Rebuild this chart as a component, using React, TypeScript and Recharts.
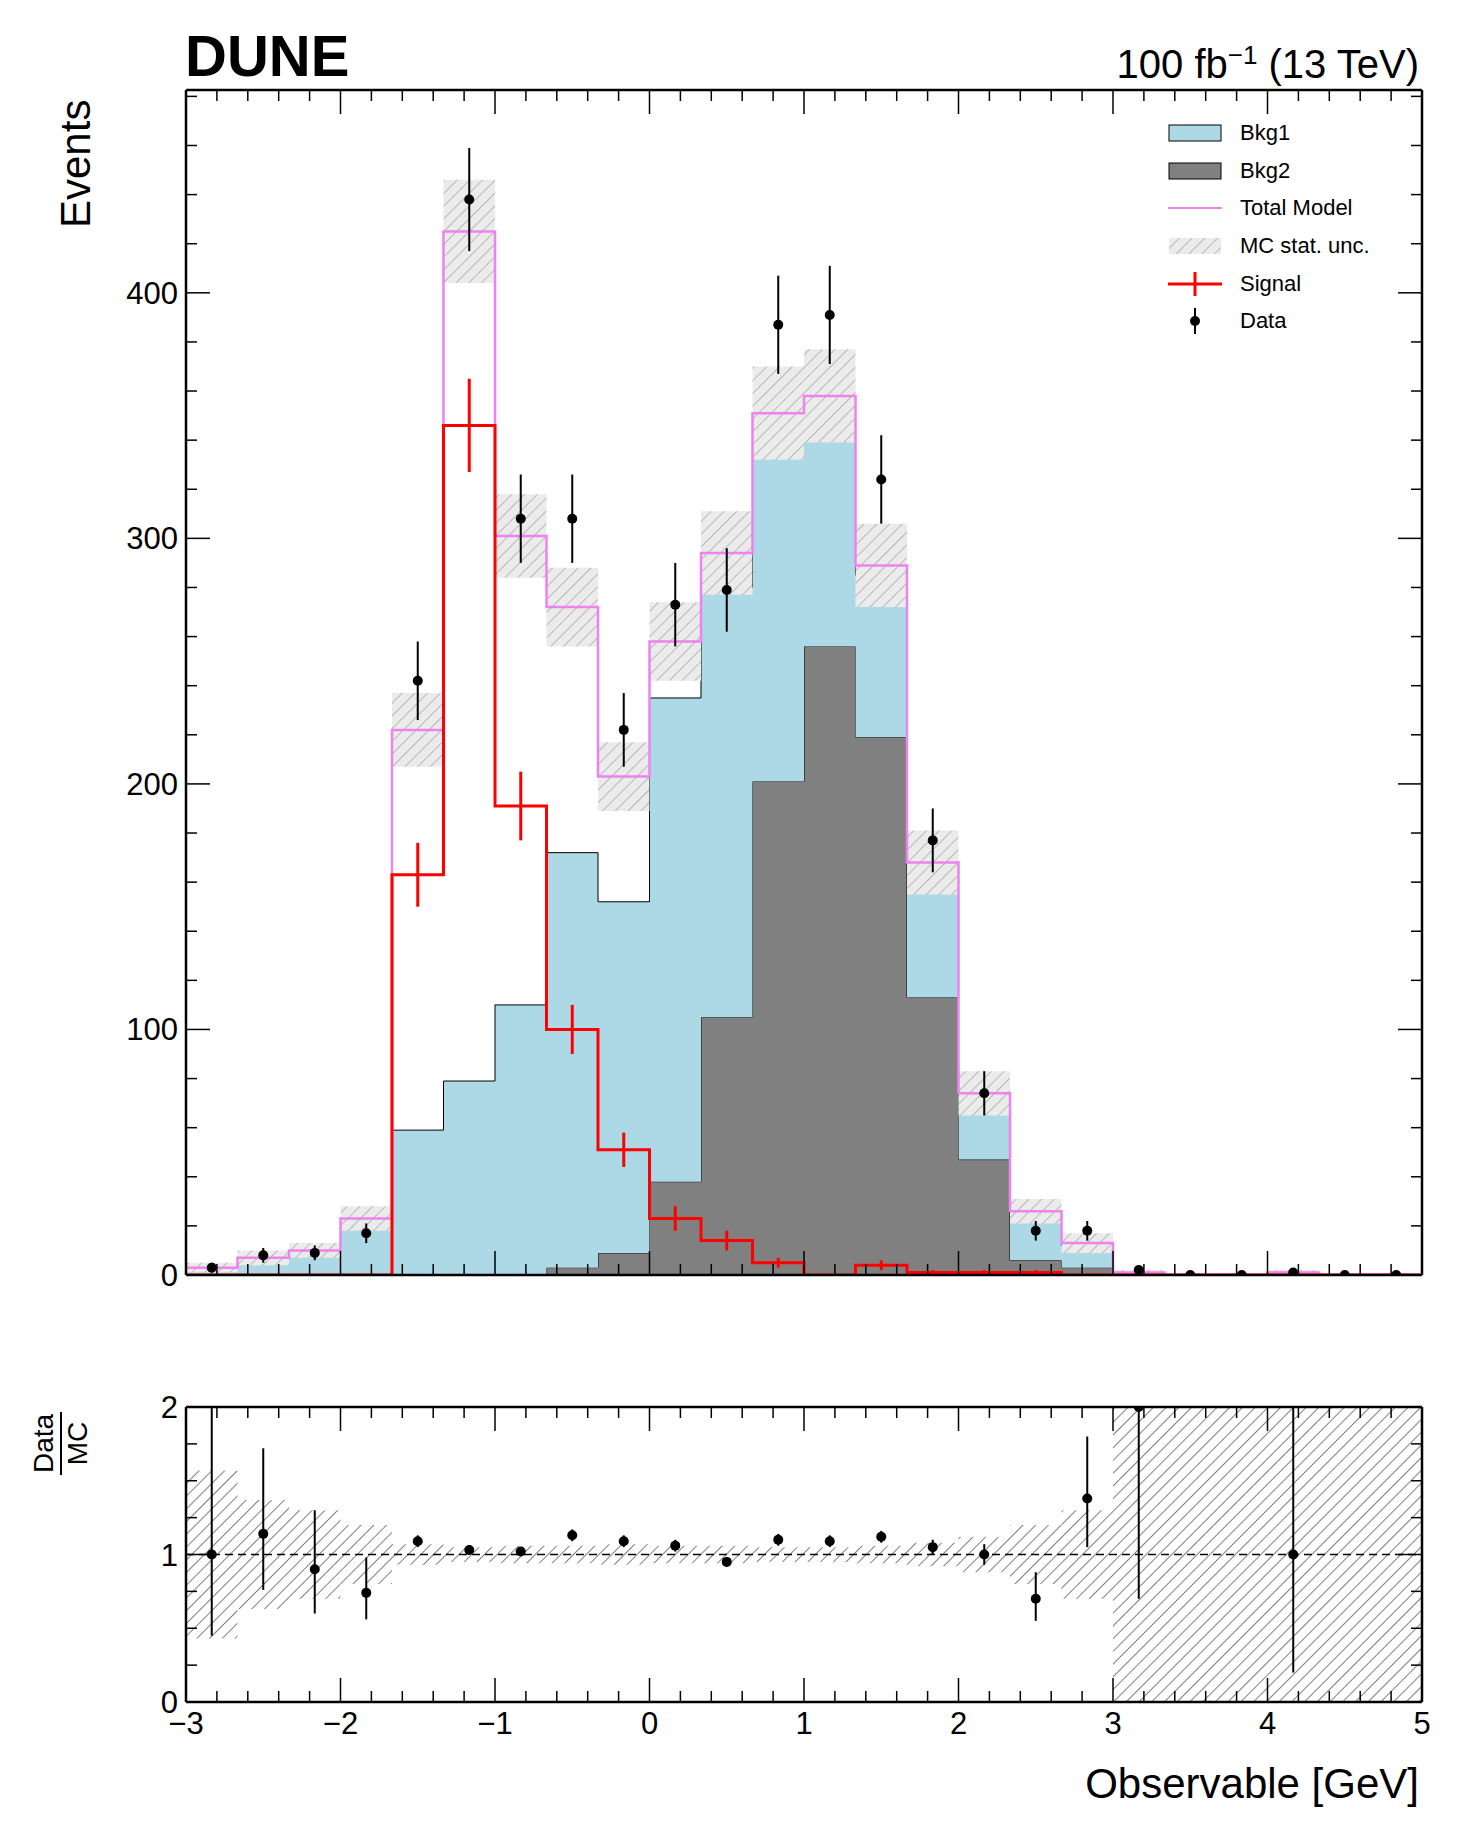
import React from 'react';
import { ComposedChart, Area, Line, Scatter, ErrorBar, XAxis, YAxis, ReferenceLine } from 'recharts';

// 24 bins of width 1/3 from -3 to 5
const edges = [-3, -2.6667, -2.3333, -2, -1.6667, -1.3333, -1, -0.6667, -0.3333, 0, 0.3333, 0.6667, 1, 1.3333, 1.6667, 2, 2.3333, 2.6667, 3, 3.3333, 3.6667, 4, 4.3333, 4.6667, 5];
const bkg1 = [3, 7, 10, 22, 59, 79, 110, 169, 143, 197, 175, 145, 102, 66, 54, 26, 19, 9, 1, 0, 0, 1, 0, 0];
const bkg2 = [0, 0, 0, 0, 0, 0, 0, 3, 9, 38, 105, 201, 256, 219, 113, 47, 6, 3, 0, 0, 0, 0, 0, 0];
const totalModel = [3, 7, 10, 23, 222, 425, 301, 272, 203, 258, 294, 351, 358, 289, 168, 74, 26, 13, 1, 0, 0, 1, 0, 0];
const mcUnc = [2, 3, 3, 5, 15, 21, 17, 16, 14, 16, 17, 19, 19, 17, 13, 9, 5, 4, 1, 0.5, 0.5, 1, 0.5, 0.5];
const signal = [0, 0, 0, 0, 163, 346, 191, 100, 51, 23, 14, 5, 0, 4, 1, 1, 1, 0, 0, 0, 0, 0, 0, 0];
const signalErr = [0, 0, 0, 0, 13, 19, 14, 10, 7, 5, 4, 2, 0, 2, 1, 1, 1, 0, 0, 0, 0, 0, 0, 0];
const dataCounts = [3, 8, 9, 17, 242, 438, 308, 308, 222, 273, 279, 387, 391, 324, 177, 74, 18, 18, 2, 0, 0, 1, 0, 0];
const dataErr = [2, 3, 3, 4, 16, 21, 18, 18, 15, 17, 17, 20, 20, 18, 13, 9, 4, 4, 1.4, 0, 0, 1, 0, 0];
const ratio = [1.0, 1.14, 0.9, 0.74, 1.09, 1.03, 1.02, 1.13, 1.09, 1.06, 0.95, 1.1, 1.09, 1.12, 1.05, 1.0, 0.7, 1.38, 2.0, null, null, 1.0, null, null];
const ratioErrLo = [0.55, 0.38, 0.3, 0.18, 0.04, 0.03, 0.03, 0.04, 0.04, 0.04, 0.03, 0.04, 0.04, 0.04, 0.05, 0.07, 0.15, 0.33, 1.3, 0, 0, 0.8, 0, 0];
const ratioErrHi = [1.0, 0.58, 0.4, 0.24, 0.04, 0.03, 0.03, 0.04, 0.04, 0.04, 0.03, 0.04, 0.04, 0.04, 0.05, 0.07, 0.18, 0.42, 0, 0, 0, 1.0, 0, 0];
const ratioUnc = [0.57, 0.37, 0.3, 0.2, 0.07, 0.05, 0.06, 0.06, 0.07, 0.06, 0.06, 0.05, 0.05, 0.06, 0.08, 0.12, 0.2, 0.3, 1, 1, 1, 1, 1, 1];

const xMajor = [-3, -2, -1, 0, 1, 2, 3, 4, 5];
const xMinor = [-2.8, -2.6, -2.4, -2.2, -1.8, -1.6, -1.4, -1.2, -0.8, -0.6, -0.4, -0.2, 0.2, 0.4, 0.6, 0.8, 1.2, 1.4, 1.6, 1.8, 2.2, 2.4, 2.6, 2.8, 3.2, 3.4, 3.6, 3.8, 4.2, 4.4, 4.6, 4.8];
const yMajor = [0, 100, 200, 300, 400];
const yMinor = [20, 40, 60, 80, 120, 140, 160, 180, 220, 240, 260, 280, 320, 340, 360, 380, 420, 440, 460, 480];
const rMajor = [0, 1, 2];
const rMinor = [0.25, 0.5, 0.75, 1.25, 1.5, 1.75];

const last = (a: number[], i: number) => a[Math.min(i, a.length - 1)];
const stepRows = edges.map((x, i) => ({
  x,
  bkg2: last(bkg2, i),
  bkg1: last(bkg1, i),
  total: last(totalModel, i),
  sig: last(signal, i),
  unc: [last(totalModel, i) - last(mcUnc, i), last(totalModel, i) + last(mcUnc, i)],
  runc: [1 - last(ratioUnc, i), 1 + last(ratioUnc, i)],
}));
const centers = edges.slice(0, -1).map((e, i) => (e + edges[i + 1]) / 2);
const dataPts = centers.map((x, i) => ({ x, y: dataCounts[i], err: dataErr[i] }));
const sigPts = centers.map((x, i) => ({ x, y: signal[i], err: signalErr[i] })).filter((d, i) => i >= 4 && i <= 16);
const ratioPts = centers
  .map((x, i) => ({ x, y: ratio[i], err: [ratioErrLo[i], ratioErrHi[i]] }))
  .filter((d) => d.y !== null);

const font = '"Liberation Sans", Arial, sans-serif';
const tickFont = { fill: '#000', fontSize: 31, fontFamily: font };
const noLabel = { fill: 'none', fontSize: 1 };
const axisLine = { stroke: '#000', strokeWidth: 2.5 };
const tickLine = { stroke: '#000', strokeWidth: 1.5 };
const fmtMinus = (v: number) => (v < 0 ? `\u2212${Math.abs(v)}` : `${v}`);

const Dot = (p: any) => <circle cx={p.cx} cy={p.cy} r={5} fill="#000" />;
const NoDot = () => <g />;

// axes need a non-zero size or recharts skips drawing them
function frameAxes(xTicks: number[], minorX: number[], yTicks: number[], minorY: number[], yDomain: number[], showX: boolean) {
  return [
    <XAxis key="xb" xAxisId="b" type="number" dataKey="x" domain={[-3, 5]} ticks={xTicks} orientation="bottom" height={1}
      axisLine={axisLine} tickLine={tickLine} tickSize={-24} tickMargin={showX ? 34 : 0} interval={0}
      tick={showX ? tickFont : noLabel} tickFormatter={fmtMinus} allowDataOverflow />,
    <XAxis key="xm" xAxisId="m" type="number" dataKey="x" domain={[-3, 5]} ticks={minorX} orientation="bottom" height={1}
      axisLine={false} tickLine={tickLine} tickSize={-12} tick={noLabel} interval={0} allowDataOverflow />,
    <XAxis key="xt" xAxisId="t" type="number" dataKey="x" domain={[-3, 5]} ticks={xTicks} orientation="top" height={1}
      axisLine={axisLine} tickLine={tickLine} tickSize={-24} tick={noLabel} interval={0} allowDataOverflow />,
    <XAxis key="xtm" xAxisId="tm" type="number" dataKey="x" domain={[-3, 5]} ticks={minorX} orientation="top" height={1}
      axisLine={false} tickLine={tickLine} tickSize={-12} tick={noLabel} interval={0} allowDataOverflow />,
    <YAxis key="yl" yAxisId="l" type="number" domain={yDomain} ticks={yTicks} orientation="left" width={1}
      axisLine={axisLine} tickLine={tickLine} tickSize={-24} tickMargin={32} tick={tickFont} interval={0} allowDataOverflow />,
    <YAxis key="ylm" yAxisId="lm" type="number" domain={yDomain} ticks={minorY} orientation="left" width={1}
      axisLine={false} tickLine={tickLine} tickSize={-12} tick={noLabel} interval={0} allowDataOverflow />,
    <YAxis key="yr" yAxisId="r" type="number" domain={yDomain} ticks={yTicks} orientation="right" width={1}
      axisLine={axisLine} tickLine={tickLine} tickSize={-24} tick={noLabel} interval={0} allowDataOverflow />,
    <YAxis key="yrm" yAxisId="rm" type="number" domain={yDomain} ticks={minorY} orientation="right" width={1}
      axisLine={false} tickLine={tickLine} tickSize={-12} tick={noLabel} interval={0} allowDataOverflow />,
  ];
}

const legendItems = [
  { label: 'Bkg1', kind: 'box', color: '#add8e6' },
  { label: 'Bkg2', kind: 'box', color: '#808080' },
  { label: 'Total Model', kind: 'line', color: '#ee82ee' },
  { label: 'MC stat. unc.', kind: 'hatch', color: '#ccc' },
  { label: 'Signal', kind: 'cross', color: '#ff0000' },
  { label: 'Data', kind: 'dot', color: '#000' },
];

function LegendIcon({ kind, color }: { kind: string; color: string }) {
  return (
    <svg width={54} height={20} style={{ overflow: 'visible' }}>
      {kind === 'box' && <rect x={1} y={2} width={52} height={16} fill={color} stroke="#000" strokeWidth={1} />}
      {kind === 'line' && <line x1={0} x2={54} y1={10} y2={10} stroke={color} strokeWidth={2} />}
      {kind === 'hatch' && <rect x={1} y={2} width={52} height={16} fill="url(#hatchLight)" />}
      {kind === 'cross' && (
        <g stroke={color} strokeWidth={3}>
          <line x1={0} x2={54} y1={10} y2={10} />
          <line x1={27} x2={27} y1={-2} y2={22} />
        </g>
      )}
      {kind === 'dot' && (
        <g>
          <line x1={27} x2={27} y1={-3} y2={23} stroke="#000" strokeWidth={2} />
          <circle cx={27} cy={10} r={5} fill="#000" />
        </g>
      )}
    </svg>
  );
}

export default function App() {
  return (
    <div style={{ position: 'absolute', left: 0, top: 0, width: 1461, height: 1836, background: '#fff', fontFamily: font }}>
      <svg width={0} height={0} style={{ position: 'absolute' }}>
        <defs>
          <pattern id="hatchLight" patternUnits="userSpaceOnUse" width={9} height={9} patternTransform="rotate(45)">
            <rect width={9} height={9} fill="#ebebeb" />
            <line x1={0} y1={0} x2={0} y2={9} stroke="#b8b8b8" strokeWidth={2} />
          </pattern>
          <pattern id="hatchDark" patternUnits="userSpaceOnUse" width={9} height={9} patternTransform="rotate(45)">
            <line x1={0} y1={0} x2={0} y2={9} stroke="#555" strokeWidth={1.5} />
          </pattern>
        </defs>
      </svg>

      <div style={{ position: 'absolute', left: 185, top: 22, fontSize: 58, fontWeight: 'bold' }}>DUNE</div>
      <div style={{ position: 'absolute', right: 42, top: 40, fontSize: 40 }}>
        100 fb<sup style={{ fontSize: 26 }}>−1</sup> (13 TeV)
      </div>
      <div style={{ position: 'absolute', left: 52, top: 228, fontSize: 42, transform: 'rotate(-90deg)', transformOrigin: 'left top' }}>Events</div>
      <div style={{ position: 'absolute', left: 28, top: 1475, transform: 'rotate(-90deg)', transformOrigin: 'left top', fontSize: 28, textAlign: 'center', lineHeight: '32px' }}>
        <div style={{ borderBottom: '2px solid #000', padding: '0 2px' }}>Data</div>
        <div>MC</div>
      </div>
      <div style={{ position: 'absolute', right: 42, top: 1760, fontSize: 42 }}>Observable [GeV]</div>

      <div style={{ position: 'absolute', left: 1168, top: 114, zIndex: 2 }}>
        {legendItems.map((it) => (
          <div key={it.label} style={{ display: 'flex', alignItems: 'center', height: 37.7 }}>
            <LegendIcon kind={it.kind} color={it.color} />
            <span style={{ marginLeft: 18, fontSize: 22 }}>{it.label}</span>
          </div>
        ))}
      </div>

      <div style={{ position: 'absolute', left: 0, top: 0 }}>
        <ComposedChart width={1461} height={1300} data={stepRows} margin={{ top: 88, right: 37, bottom: 23, left: 184 }} style={{ overflow: 'visible' }}>
          {frameAxes(xMajor, xMinor, yMajor, yMinor, [0, 482.6], false)}
          <Area xAxisId="b" yAxisId="l" type="stepAfter" dataKey="bkg2" stackId="s" fill="#808080" fillOpacity={1} stroke="#000" strokeWidth={1} isAnimationActive={false} />
          <Area xAxisId="b" yAxisId="l" type="stepAfter" dataKey="bkg1" stackId="s" fill="#add8e6" fillOpacity={1} stroke="#000" strokeWidth={1} isAnimationActive={false} />
          <Area xAxisId="b" yAxisId="l" type="stepAfter" dataKey="unc" fill="url(#hatchLight)" fillOpacity={1} stroke="none" isAnimationActive={false} />
          <Line xAxisId="b" yAxisId="l" type="stepAfter" dataKey="total" stroke="#ee82ee" strokeWidth={2.5} dot={false} isAnimationActive={false} />
          <Line xAxisId="b" yAxisId="l" type="stepAfter" dataKey="sig" stroke="#ff0000" strokeWidth={3} dot={false} isAnimationActive={false} />
          <Scatter xAxisId="b" yAxisId="l" data={sigPts} dataKey="y" shape={NoDot} isAnimationActive={false}>
            <ErrorBar dataKey="err" direction="y" width={0} stroke="#ff0000" strokeWidth={3} />
          </Scatter>
          <Scatter xAxisId="b" yAxisId="l" data={dataPts} dataKey="y" shape={Dot} isAnimationActive={false}>
            <ErrorBar dataKey="err" direction="y" width={0} stroke="#000" strokeWidth={2} />
          </Scatter>
        </ComposedChart>
      </div>

      <div style={{ position: 'absolute', left: 0, top: 1300 }}>
        <ComposedChart width={1461} height={536} data={stepRows} margin={{ top: 105, right: 37, bottom: 132, left: 184 }} style={{ overflow: 'visible' }}>
          {frameAxes(xMajor, xMinor, rMajor, rMinor, [0, 2], true)}
          <Area xAxisId="b" yAxisId="l" type="stepAfter" dataKey="runc" fill="url(#hatchDark)" fillOpacity={1} stroke="none" isAnimationActive={false} />
          <ReferenceLine xAxisId="b" yAxisId="l" y={1} stroke="#000" strokeWidth={1.5} strokeDasharray="8 5" />
          <Scatter xAxisId="b" yAxisId="l" data={ratioPts} dataKey="y" shape={Dot} isAnimationActive={false}>
            <ErrorBar dataKey="err" direction="y" width={0} stroke="#000" strokeWidth={2} />
          </Scatter>
        </ComposedChart>
      </div>
    </div>
  );
}
